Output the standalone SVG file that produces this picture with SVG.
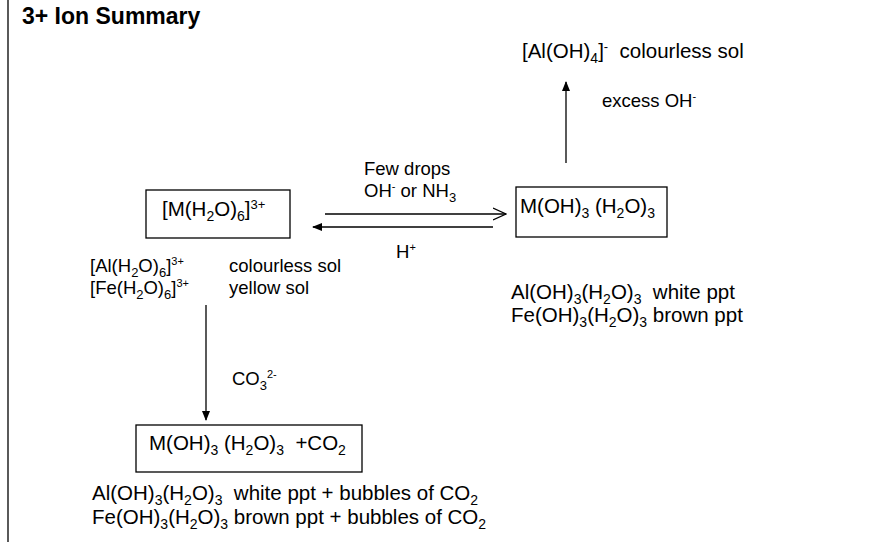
<svg xmlns="http://www.w3.org/2000/svg" width="876" height="542" viewBox="0 0 876 542">
<style>
text{font-family:"Liberation Sans",Arial,sans-serif;fill:#000;white-space:pre}
.s{font-size:18.5px}.l{font-size:20.5px}
.box{fill:none;stroke:#000;stroke-width:1.3}
.ln{stroke:#000;stroke-width:1.3;fill:none}
</style>
<defs>
<marker id="fa" markerWidth="10" markerHeight="8" refX="9" refY="4" orient="auto" markerUnits="userSpaceOnUse"><path d="M0,0 L10,4 L0,8 Z" fill="#000"/></marker>
<marker id="oa" markerWidth="14" markerHeight="14" refX="13" refY="7" orient="auto" markerUnits="userSpaceOnUse"><path d="M0,1 L13,7 L0,13" fill="none" stroke="#000" stroke-width="1.3"/></marker>
</defs>
<rect width="876" height="542" fill="#fff"/>
<line x1="8" y1="0" x2="8" y2="542" class="ln"/>
<text x="22" y="24" style="font-size:23px;font-weight:bold">3+ Ion Summary</text>
<g id="connectors">
<line class="ln" x1="325" y1="214" x2="506" y2="214" marker-end="url(#oa)"/>
<line class="ln" x1="493" y1="227" x2="313" y2="227" marker-end="url(#fa)"/>
<line class="ln" x1="566" y1="163" x2="566" y2="82" marker-end="url(#fa)"/>
<line class="ln" x1="206" y1="305" x2="206" y2="420" marker-end="url(#fa)"/>
<text class="s" x="364" y="175">Few drops</text>
<text class="s" x="364" y="197">OH<tspan font-size="11" dy="-7">-</tspan><tspan dy="7"> or NH</tspan><tspan font-size="13" dy="5">3</tspan></text>
<text class="s" x="396" y="258">H<tspan font-size="11" dy="-7">+</tspan></text>
<text class="s" x="602" y="107">excess OH<tspan font-size="11" dy="-7">-</tspan></text>
<text class="s" x="232" y="385">CO<tspan font-size="13" dy="5">3</tspan><tspan font-size="11" dy="-12">2-</tspan></text>
</g>
<g id="n1">
<rect class="box" x="146" y="190" width="144" height="48"/>
<text class="l" x="162" y="216">[M(H<tspan font-size="14" dy="5">2</tspan><tspan dy="-5">O)</tspan><tspan font-size="14" dy="5">6</tspan><tspan dy="-5">]</tspan><tspan font-size="13" dy="-7">3+</tspan></text>
</g>
<g id="n1info">
<text class="s" x="90" y="272">[Al(H<tspan font-size="13" dy="5">2</tspan><tspan dy="-5">O)</tspan><tspan font-size="13" dy="5">6</tspan><tspan dy="-5">]</tspan><tspan font-size="11" dy="-7">3+</tspan></text>
<text class="s" x="90" y="294">[Fe(H<tspan font-size="13" dy="5">2</tspan><tspan dy="-5">O)</tspan><tspan font-size="13" dy="5">6</tspan><tspan dy="-5">]</tspan><tspan font-size="11" dy="-7">3+</tspan></text>
<text class="s" x="229" y="272">colourless sol</text>
<text class="s" x="229" y="294">yellow sol</text>
</g>
<g id="n2">
<rect class="box" x="516" y="187" width="151" height="50"/>
<text class="l" x="520" y="213">M(OH)<tspan font-size="14" dy="5">3</tspan><tspan dy="-5"> (H</tspan><tspan font-size="14" dy="5">2</tspan><tspan dy="-5">O)</tspan><tspan font-size="14" dy="5">3</tspan></text>
</g>
<g id="n2info">
<text class="l" x="511" y="299">Al(OH)<tspan font-size="14" dy="5">3</tspan><tspan dy="-5">(H</tspan><tspan font-size="14" dy="5">2</tspan><tspan dy="-5">O)</tspan><tspan font-size="14" dy="5">3</tspan><tspan dy="-5">  white ppt</tspan></text>
<text class="l" x="511" y="322">Fe(OH)<tspan font-size="14" dy="5">3</tspan><tspan dy="-5">(H</tspan><tspan font-size="14" dy="5">2</tspan><tspan dy="-5">O)</tspan><tspan font-size="14" dy="5">3</tspan><tspan dy="-5"> brown ppt</tspan></text>
</g>
<g id="n3">
<text class="l" x="522" y="58">[Al(OH)<tspan font-size="14" dy="5">4</tspan><tspan dy="-5">]</tspan><tspan font-size="13" dy="-7">-</tspan><tspan dy="7">  colourless sol</tspan></text>
</g>
<g id="n4">
<rect class="box" x="136" y="425" width="226" height="47"/>
<text class="l" x="149" y="450">M(OH)<tspan font-size="14" dy="5">3</tspan><tspan dy="-5"> (H</tspan><tspan font-size="14" dy="5">2</tspan><tspan dy="-5">O)</tspan><tspan font-size="14" dy="5">3</tspan><tspan dy="-5">  +CO</tspan><tspan font-size="14" dy="5">2</tspan></text>
</g>
<g id="n4info">
<text class="l" x="92" y="500">Al(OH)<tspan font-size="14" dy="5">3</tspan><tspan dy="-5">(H</tspan><tspan font-size="14" dy="5">2</tspan><tspan dy="-5">O)</tspan><tspan font-size="14" dy="5">3</tspan><tspan dy="-5">  white ppt + bubbles of CO</tspan><tspan font-size="14" dy="5">2</tspan></text>
<text class="l" x="92" y="524">Fe(OH)<tspan font-size="14" dy="5">3</tspan><tspan dy="-5">(H</tspan><tspan font-size="14" dy="5">2</tspan><tspan dy="-5">O)</tspan><tspan font-size="14" dy="5">3</tspan><tspan dy="-5"> brown ppt + bubbles of CO</tspan><tspan font-size="14" dy="5">2</tspan></text>
</g>
</svg>
